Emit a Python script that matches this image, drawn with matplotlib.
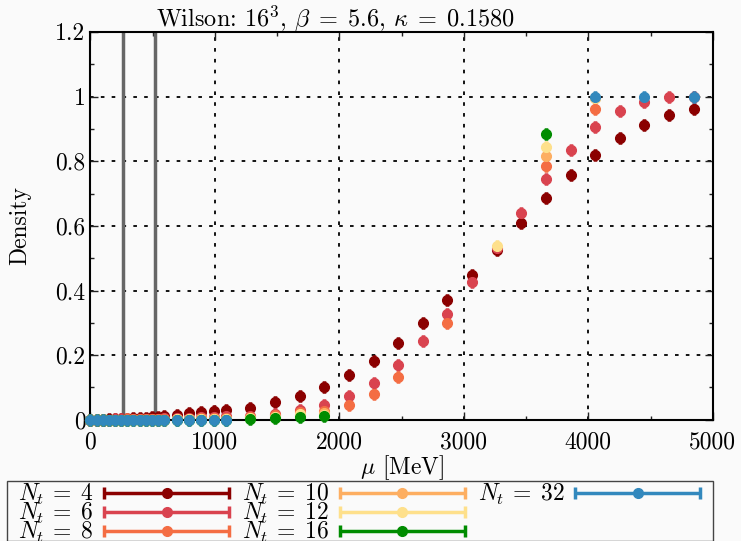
import matplotlib
matplotlib.use('Agg')
import matplotlib.pyplot as plt
from matplotlib.ticker import MultipleLocator, FormatStrFormatter
from matplotlib.container import ErrorbarContainer
from matplotlib.legend_handler import HandlerErrorbar
from matplotlib.lines import Line2D
from matplotlib.patches import Rectangle

plt.rcParams['font.family'] = 'serif'
plt.rcParams['font.serif'] = ['cmr10']
plt.rcParams['mathtext.fontset'] = 'cm'
plt.rcParams['axes.formatter.use_mathtext'] = True

# chemical potential grid (MeV)
mu_low = [0, 49, 99, 148, 198, 247, 297, 346, 396, 445, 494, 544, 593,
          692, 791, 890, 989, 1088]
mu_mid = [1286, 1484, 1681, 1879, 2077, 2275, 2473, 2670, 2868, 3066,
          3264, 3461, 3659, 3857, 4055, 4253, 4450, 4648, 4846]

# Nt = 4
mu4 = mu_low + mu_mid
d4 = [0, 0, 0.0005, 0.001, 0.002, 0.003, 0.004, 0.005, 0.006, 0.007, 0.008,
      0.009, 0.011, 0.016, 0.02, 0.023, 0.026, 0.031,
      0.038, 0.054, 0.074, 0.102, 0.138, 0.183, 0.237, 0.300, 0.371, 0.448,
      0.525, 0.608, 0.686, 0.757, 0.820, 0.872, 0.912, 0.942, 0.962]
# Nt = 6
mu6 = mu_low + mu_mid
d6 = [0, 0, 0, 0, 0.001, 0.001, 0.002, 0.002, 0.003, 0.003, 0.004,
      0.004, 0.005, 0.006, 0.007, 0.008, 0.010, 0.012,
      0.013, 0.018, 0.031, 0.047, 0.075, 0.115, 0.171, 0.243, 0.328, 0.425,
      0.530, 0.641, 0.744, 0.834, 0.906, 0.955, 0.982, 0.998, 1.0]
# Nt = 8
mu8 = mu_low + [1286, 1484, 1681, 1879, 2077, 2275, 2473, 2868, 3659, 4055]
d8 = [0, 0, 0, 0, 0, 0, 0.001, 0.001, 0.001, 0.002, 0.002,
      0.002, 0.003, 0.003, 0.004, 0.005, 0.006, 0.007,
      0.010, 0.014, 0.024, 0.028, 0.045, 0.079, 0.132, 0.301, 0.785, 0.963]
# Nt = 10
mu10 = mu_low + [1286, 1484, 1681, 1879, 3659, 4055]
d10 = [0] * 13 + [0.001, 0.001, 0.002, 0.003, 0.004,
                  0.007, 0.010, 0.016, 0.020, 0.817, 0.995]
# Nt = 12
mu12 = mu_low + [1286, 1484, 1681, 1879, 3264, 3659, 4055]
d12 = [0] * 13 + [0.001, 0.001, 0.001, 0.002, 0.003,
                  0.005, 0.008, 0.018, 0.016, 0.538, 0.843, 0.997]
# Nt = 16
mu16 = mu_low + [1286, 1484, 1681, 1879, 3659]
d16 = [0] * 18 + [0.003, 0.006, 0.008, 0.012, 0.884]
# Nt = 32
mu32 = mu_low + [4055, 4450, 4846]
d32 = [0] * 18 + [1.0, 1.0, 1.0]

series = [
    (r'$N_t\,=\;4$', mu4, d4, '#8b0000'),
    (r'$N_t\,=\;6$', mu6, d6, '#d9434f'),
    (r'$N_t\,=\;8$', mu8, d8, '#f46d43'),
    (r'$N_t\,=\;10$', mu10, d10, '#fdae61'),
    (r'$N_t\,=\;12$', mu12, d12, '#fee08b'),
    (r'$N_t\,=\;16$', mu16, d16, '#008c00'),
    (r'$N_t\,=\;32$', mu32, d32, '#3288bd'),
]

vlines = [261, 518]

fig = plt.figure(figsize=(7.41, 5.41), dpi=100, facecolor='#fafafa')
ax = fig.add_axes([0.122, 0.224, 0.840, 0.717])
ax.set_facecolor('#fafafa')

for v in vlines:
    ax.axvline(v, color='#666666', lw=2.5, zorder=1)

handles = []
labels = []
for label, x, y, c in series:
    h = ax.errorbar(x, y, xerr=[0] * len(x), fmt='o', color=c, ms=7,
                    elinewidth=2.5, capsize=4, capthick=2.5, label=label,
                    clip_on=False, zorder=3)
    handles.append(h)
    labels.append(label)

# two empty slots so the columns fill 3 / 3 / 1
for k in range(2):
    handles.append(Line2D([], [], linestyle='none', marker=None))
    labels.append(' ')

ax.set_xlim(0, 5000)
ax.set_ylim(0, 1.2)
ax.xaxis.set_major_locator(MultipleLocator(1000))
ax.xaxis.set_minor_locator(MultipleLocator(500))
ax.yaxis.set_major_locator(MultipleLocator(0.2))
ax.yaxis.set_minor_locator(MultipleLocator(0.1))
ax.yaxis.set_major_formatter(FormatStrFormatter('%g'))
ax.xaxis.set_major_formatter(FormatStrFormatter('%g'))
ax.tick_params(which='both', direction='in', top=True, right=True,
               labelsize=17, color='#222222')
ax.tick_params(which='major', length=6, width=1)
ax.tick_params(which='minor', length=3, width=1)
ax.tick_params(axis='x', pad=8)
for s in ax.spines.values():
    s.set_linewidth(1.5)
ax.grid(True, which='major', color='black', linestyle=(0, (2, 4)), lw=1.3)
ax.set_axisbelow(True)

ax.set_xlabel(r'$\mu$ [MeV]', fontsize=17, labelpad=0)
ax.set_ylabel('Density', fontsize=17, labelpad=17)
fig.text(335 / 741, 1 - 27 / 541,
         r'Wilson: $16^3,\, \beta\;=\;5.6,\, \kappa\;=\;0.1580$',
         ha='center', va='baseline', fontsize=17.5)

# legend frame drawn separately (wider side padding than top padding)
fig.patches.append(Rectangle((7 / 741, 0), 706 / 741, 1 - 481 / 541,
                             transform=fig.transFigure, facecolor='#fafafa',
                             edgecolor='#444444', lw=1.0, zorder=5))

hl = 5.3
leg = fig.legend(handles, labels, loc='upper left',
                 bbox_to_anchor=(18 / 741, 1 - 482 / 541),
                 ncol=3, markerfirst=False, fontsize=17, handlelength=hl,
                 numpoints=1, labelspacing=-0.25, columnspacing=0.55,
                 handletextpad=0.45, borderpad=0, borderaxespad=0,
                 frameon=False,
                 handler_map={ErrorbarContainer: HandlerErrorbar(xerr_size=hl / 2)})
leg.set_zorder(6)

fig.savefig('out.png', dpi=100, facecolor='#fafafa')
